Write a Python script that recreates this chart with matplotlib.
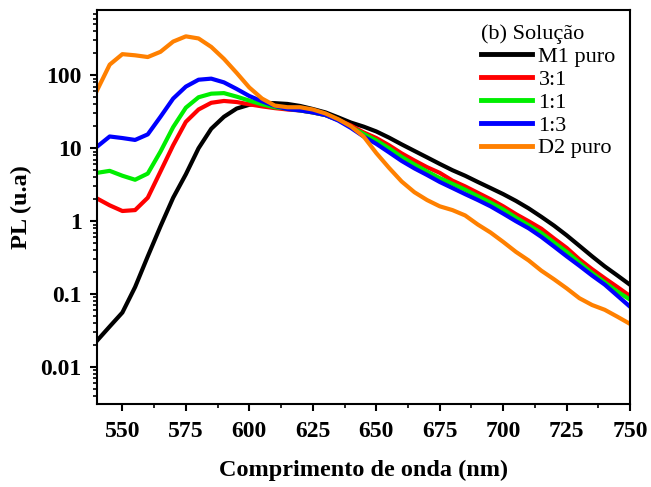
import matplotlib
matplotlib.use("Agg")
import matplotlib.pyplot as plt
from matplotlib.ticker import FixedLocator, FuncFormatter, LogLocator, NullFormatter

plt.rcParams.update(
    {
        "font.family": "Liberation Serif",
        "font.size": 16,
        "axes.linewidth": 1.5,
    }
)

# Comprimento de onda (nm)
wavelength = [540, 545, 550, 555, 560, 565, 570, 575, 580, 585, 590, 595, 600,
              605, 610, 615, 620, 625, 630, 635, 640, 645, 650, 655, 660, 665,
              670, 675, 680, 685, 690, 695, 700, 705, 710, 715, 720, 725, 730,
              735, 740, 745, 750]

pl_m1 = [0.023, 0.036, 0.056, 0.125, 0.33, 0.85, 2.1, 4.4, 10.0, 18.5, 27.0,
         35.0, 39.5, 41.5, 41.5, 40.5, 38.0, 34.5, 31.0, 26.5, 22.5, 19.8, 17.0,
         14.0, 11.3, 9.2, 7.5, 6.1, 5.0, 4.2, 3.45, 2.85, 2.35, 1.9, 1.5, 1.15,
         0.87, 0.64, 0.46, 0.33, 0.24, 0.18, 0.134]
pl_31 = [2.05, 1.65, 1.38, 1.42, 2.1, 4.8, 11.0, 23.0, 34.0, 42.0, 44.5, 43.0,
         40.0, 37.5, 35.5, 34.0, 33.0, 31.0, 28.5, 24.5, 20.5, 16.5, 13.8, 11.0,
         8.5, 6.8, 5.5, 4.6, 3.6, 3.0, 2.45, 2.0, 1.6, 1.25, 1.0, 0.79, 0.58,
         0.43, 0.30, 0.22, 0.165, 0.125, 0.094]
pl_11 = [4.6, 4.9, 4.2, 3.7, 4.5, 9.0, 19.5, 36.0, 50.0, 56.0, 57.0, 51.0, 45.0,
         40.0, 36.5, 35.0, 33.0, 31.0, 28.5, 24.5, 19.5, 15.8, 12.8, 10.0, 7.6,
         6.0, 4.8, 3.9, 3.25, 2.7, 2.2, 1.8, 1.45, 1.12, 0.88, 0.69, 0.51, 0.38,
         0.27, 0.195, 0.145, 0.108, 0.084]
pl_13 = [10.5, 14.5, 13.8, 13.0, 15.5, 27.0, 48.0, 70.0, 87.0, 90.0, 80.0, 65.0,
         52.0, 44.0, 38.0, 34.5, 33.0, 31.0, 28.5, 24.0, 19.0, 14.5, 11.5, 8.8,
         6.7, 5.3, 4.3, 3.45, 2.85, 2.35, 1.95, 1.6, 1.27, 1.0, 0.8, 0.61, 0.45,
         0.33, 0.245, 0.18, 0.135, 0.095, 0.067]
pl_d2 = [62.0, 140.0, 195.0, 188.0, 178.0, 210.0, 290.0, 342.0, 320.0, 245.0,
         168.0, 108.0, 68.0, 48.0, 38.5, 36.5, 36.5, 34.0, 30.0, 25.0, 20.0,
         14.5, 8.6, 5.4, 3.5, 2.5, 1.95, 1.6, 1.42, 1.2, 0.9, 0.7, 0.52, 0.38,
         0.29, 0.21, 0.16, 0.12, 0.088, 0.071, 0.061, 0.049, 0.039]

series = [
    ("M1 puro", pl_m1, "#000000"),
    ("3:1", pl_31, "#ff0000"),
    ("1:1", pl_11, "#00ee00"),
    ("1:3", pl_13, "#0000ff"),
    ("D2 puro", pl_d2, "#ff8000"),
]

fig = plt.figure(figsize=(6.51, 4.87), dpi=100)
ax = fig.add_axes([0.149, 0.170, 0.819, 0.809])

for label, vals, color in series:
    ax.plot(wavelength, vals, color=color, linewidth=3.0, label=label,
            solid_joinstyle="round")

ax.set_yscale("log")
ax.set_xlim(540, 750)
ax.set_ylim(0.0031, 780)

ax.xaxis.set_major_locator(FixedLocator([550, 575, 600, 625, 650, 675, 700, 725, 750]))
ax.xaxis.set_minor_locator(FixedLocator([562.5, 587.5, 612.5, 637.5, 662.5, 687.5, 712.5, 737.5]))
ax.yaxis.set_major_locator(FixedLocator([0.01, 0.1, 1, 10, 100]))
ax.yaxis.set_major_formatter(FuncFormatter(lambda v, p: f"{v:g}"))
ax.yaxis.set_minor_locator(LogLocator(base=10, subs=range(2, 10), numticks=20))
ax.yaxis.set_minor_formatter(NullFormatter())

ax.tick_params(which="major", direction="out", length=5, width=1.5,
               labelsize=17, top=False, right=False)
ax.tick_params(axis="y", which="major", pad=6)
ax.tick_params(axis="x", which="major", pad=7)
ax.tick_params(which="minor", direction="out", length=3, width=1.2,
               top=False, right=False)
for lab in ax.get_xticklabels() + ax.get_yticklabels():
    lab.set_fontweight("bold")

ax.set_xlabel("Comprimento de onda (nm)", fontsize=17.5, fontweight="bold", labelpad=13)
ax.set_ylabel("PL (u.a)", fontsize=17.5, fontweight="bold", labelpad=6)

leg = ax.legend(title="(b) Solução", loc="upper right", frameon=False,
                fontsize=16, title_fontsize=16, handlelength=2.3,
                handletextpad=0.3, labelspacing=0.1, borderaxespad=0.25,
                alignment="left")
for line in leg.get_lines():
    line.set_linewidth(3.5)

fig.savefig("out.png", dpi=100)
